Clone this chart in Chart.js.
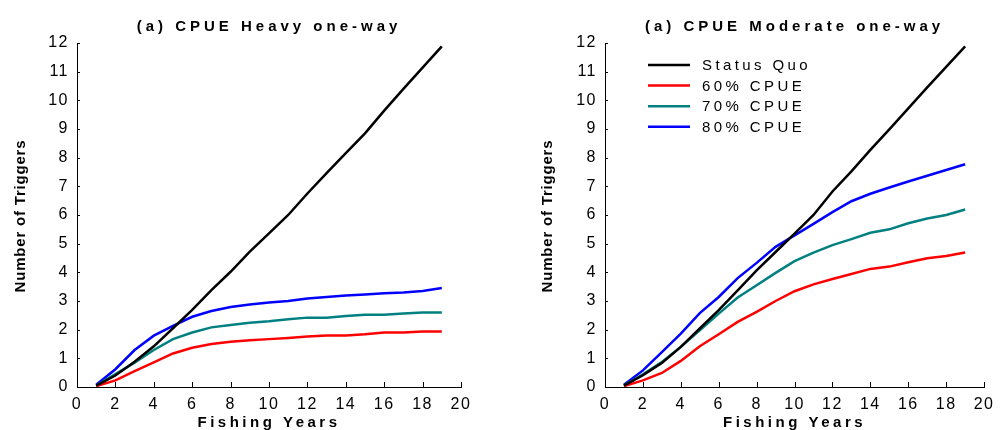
<!DOCTYPE html>
<html lang="en">
  <head>
    <meta charset="UTF-8" />
    <title>CPUE triggers</title>
    <style>
      body { margin: 0; background: #fff; }
      .wrap { display: flex; width: 1001px; height: 430px; }
      canvas { display: block; }
    </style>
  </head>
  <body>
    <div class="wrap">
      <canvas id="heavyChart" width="500" height="430"></canvas>
      <canvas id="moderateChart" width="501" height="430"></canvas>
    </div>

    <script src="https://cdn.jsdelivr.net/npm/chart.js"></script>

    <script>
      const years = [1, 2, 3, 4, 5, 6, 7, 8, 9, 10, 11, 12, 13, 14, 15, 16, 17, 18, 19];
      const seriesNames = ["Status Quo", "60% CPUE", "70% CPUE", "80% CPUE"];
      const xTicks = [0, 2, 4, 6, 8, 10, 12, 14, 16, 18, 20];
      const yTicks = [0, 1, 2, 3, 4, 5, 6, 7, 8, 9, 10, 11, 12];

      // (a) CPUE Heavy one-way
      const heavySQ = [0.05, 0.4, 0.88, 1.42, 2.05, 2.69, 3.38, 4.02, 4.72, 5.36, 6.0, 6.75, 7.46, 8.16, 8.85, 9.64, 10.4, 11.14, 11.88];
      const heavy60 = [0.03, 0.23, 0.55, 0.86, 1.17, 1.37, 1.5, 1.58, 1.63, 1.67, 1.71, 1.76, 1.8, 1.8, 1.84, 1.9, 1.9, 1.94, 1.94];
      const heavy70 = [0.05, 0.45, 0.85, 1.29, 1.67, 1.9, 2.08, 2.16, 2.24, 2.29, 2.36, 2.42, 2.42, 2.48, 2.52, 2.52, 2.56, 2.6, 2.6];
      const heavy80 = [0.08, 0.62, 1.29, 1.79, 2.13, 2.45, 2.65, 2.79, 2.88, 2.95, 3.0, 3.09, 3.14, 3.19, 3.23, 3.27, 3.3, 3.35, 3.45];

      // (a) CPUE Moderate one-way
      const modSQ = [0.05, 0.41, 0.84, 1.4, 2.04, 2.68, 3.37, 4.07, 4.71, 5.35, 6.0, 6.82, 7.52, 8.27, 8.99, 9.72, 10.45, 11.17, 11.88];
      const mod60 = [0.03, 0.23, 0.49, 0.91, 1.42, 1.84, 2.27, 2.62, 3.0, 3.34, 3.58, 3.77, 3.94, 4.12, 4.2, 4.35, 4.49, 4.57, 4.69];
      const mod70 = [0.05, 0.44, 0.87, 1.4, 1.98, 2.56, 3.12, 3.55, 3.98, 4.39, 4.69, 4.95, 5.16, 5.38, 5.5, 5.71, 5.88, 6.0, 6.19];
      const mod80 = [0.08, 0.58, 1.22, 1.86, 2.58, 3.14, 3.8, 4.33, 4.89, 5.29, 5.69, 6.1, 6.48, 6.74, 6.96, 7.17, 7.37, 7.57, 7.77];

      const colors = ["#000000", "#ff0000", "#008080", "#0000ff"];
      const FONT = "'Liberation Sans', Arial, sans-serif";

      function makeDatasets(list) {
        return list.map((vals, i) => ({
          label: seriesNames[i],
          data: vals.map((v, j) => ({ x: years[j], y: v })),
          borderColor: colors[i],
          backgroundColor: colors[i],
          borderWidth: 2.5,
          pointRadius: 0,
          tension: 0,
        }));
      }

      // titles, axis names, inside tick marks and legend
      const decor = {
        id: "decor",
        beforeDraw(chart) {
          chart.ctx.letterSpacing = "1.5px";
        },
        afterDraw(chart, args, opts) {
          const ctx = chart.ctx;
          const a = chart.chartArea;
          const cx = (a.left + a.right) / 2;
          ctx.save();
          ctx.fillStyle = "#000";
          ctx.textAlign = "center";
          ctx.textBaseline = "alphabetic";

          ctx.font = "bold 15px " + FONT;
          ctx.letterSpacing = "4px";
          ctx.fillText(opts.title, cx, 31);

          ctx.letterSpacing = "3.5px";
          ctx.fillText("Fishing Years", cx, 427);

          ctx.save();
          ctx.letterSpacing = "0.8px";
          ctx.translate(opts.yTitleX, (a.top + a.bottom) / 2 + 1);
          ctx.rotate(-Math.PI / 2);
          ctx.fillText("Number of Triggers", 0, 0);
          ctx.restore();

          // inside tick marks
          ctx.strokeStyle = "#000";
          ctx.lineWidth = 1;
          ctx.beginPath();
          chart.scales.y.ticks.forEach((t) => {
            const py = Math.round(chart.scales.y.getPixelForValue(t.value)) + 0.5;
            ctx.moveTo(a.left, py);
            ctx.lineTo(a.left + 3, py);
          });
          chart.scales.x.ticks.forEach((t) => {
            const px = Math.round(chart.scales.x.getPixelForValue(t.value)) + 0.5;
            ctx.moveTo(px, a.bottom);
            ctx.lineTo(px, a.bottom - 5);
          });
          ctx.stroke();

          if (opts.legend) {
            ctx.textAlign = "left";
            ctx.textBaseline = "middle";
            ctx.font = "15px " + FONT;
            ctx.letterSpacing = "3.4px";
            chart.data.datasets.forEach((ds, i) => {
              const y = 65 + i * 20.6;
              ctx.strokeStyle = ds.borderColor;
              ctx.lineWidth = 2.5;
              ctx.beginPath();
              ctx.moveTo(148, y);
              ctx.lineTo(190, y);
              ctx.stroke();
              ctx.fillText(ds.label, 202, y + 1);
            });
          }
          ctx.restore();
        },
      };

      function makeChart(id, list, title, pad, yTitleX, legend) {
        return new Chart(document.getElementById(id), {
          type: "line",
          data: { datasets: makeDatasets(list) },
          plugins: [decor],
          options: {
            responsive: false,
            animation: false,
            devicePixelRatio: 1,
            layout: { padding: pad },
            plugins: {
              legend: { display: false },
              tooltip: { enabled: false },
              decor: { title: title, yTitleX: yTitleX, legend: legend },
            },
            scales: {
              x: {
                type: "linear",
                min: 0,
                max: 20,
                afterFit: (s) => { s.height = 43; },
                afterBuildTicks: (s) => { s.ticks = xTicks.map((v) => ({ value: v })); },
                grid: { display: true, drawOnChartArea: false, drawTicks: false },
                border: { color: "#000", width: 1 },
                ticks: { color: "#000", padding: 8, maxRotation: 0, font: { size: 16, family: FONT } },
              },
              y: {
                min: 0,
                max: 12,
                afterFit: (s) => { s.width = 45; },
                afterBuildTicks: (s) => { s.ticks = yTicks.map((v) => ({ value: v })); },
                grid: { display: true, drawOnChartArea: false, drawTicks: false },
                border: { color: "#000", width: 1 },
                ticks: { color: "#000", padding: 8, font: { size: 16, family: FONT } },
              },
            },
          },
        });
      }

      makeChart("heavyChart", [heavySQ, heavy60, heavy70, heavy80],
        "(a) CPUE Heavy one-way", { left: 32, right: 39, top: 43, bottom: 0 }, 25, false);
      makeChart("moderateChart", [modSQ, mod60, mod70, mod80],
        "(a) CPUE Moderate one-way", { left: 60, right: 12, top: 43, bottom: 0 }, 52, true);
    </script>
  </body>
</html>
